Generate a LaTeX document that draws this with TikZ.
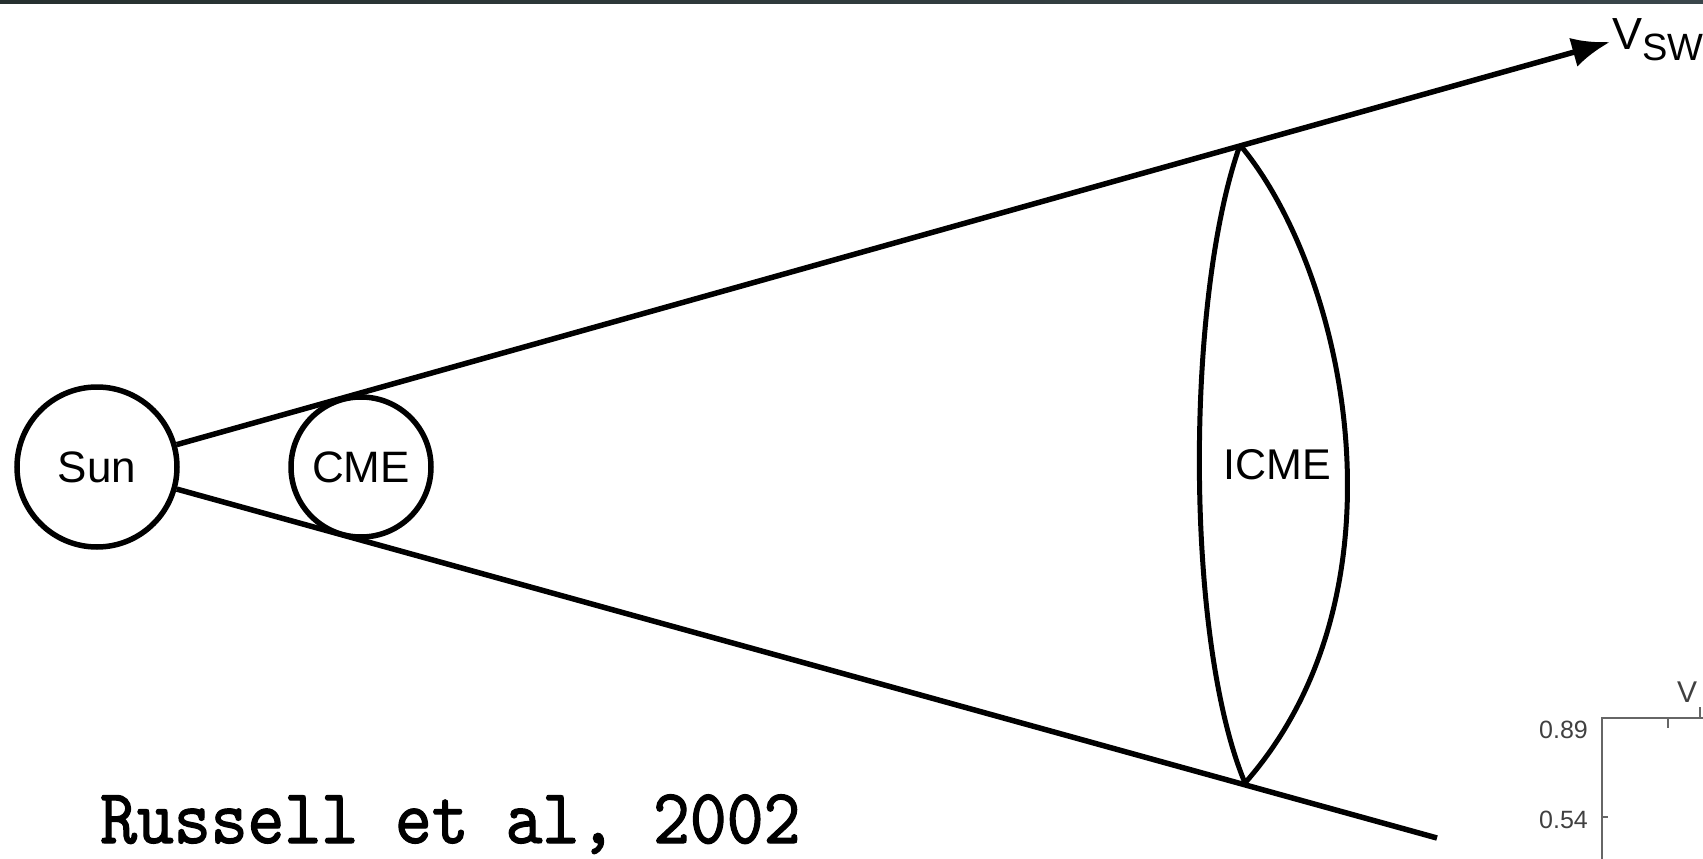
\documentclass[tikz,border=0pt]{standalone}
\usepackage{fontspec}
\setmainfont{Liberation Sans}
\newfontfamily\citefont[FakeStretch=0.9,FakeBold=1.5]{lmmono10-regular.otf}
\usepackage{tikz}
\usetikzlibrary{arrows.meta, positioning}
\definecolor{barleft}{HTML}{26302F}
\definecolor{barright}{HTML}{3A464B}

\begin{document}
\begin{tikzpicture}[x=1pt, y=-1pt]
    % Define styles
    \tikzstyle{body} = [circle, draw=black, line width=5.5pt, inner sep=0pt, font=\fontsize{44}{48}\selectfont]
    \tikzstyle{edge} = [line width=5.5pt, draw=black]
    \tikzstyle{shell} = [line width=5pt, draw=black]
    \tikzstyle{axis} = [line width=2pt, draw=black!60]
    \tikzstyle{ticklabel} = [anchor=base east, inner sep=0pt, text=black!75, font=\fontsize{25}{26}\selectfont]

    \useasboundingbox (0,0) rectangle (1703,859);
    \shade[left color=barleft, right color=barright] (0,0) rectangle (1703,4);

    % Nodes
    \node (sun) [body, minimum size=160pt] at (97,467) {Sun};
    \node (cme) [body, minimum size=140pt] at (361,467) {CME};
    \node (icme) [font=\fontsize{43}{48}\selectfont] at (1277,465) {ICME};
    \coordinate (tip) at (1610,42);
    \coordinate (tail) at (1437,838);
    \coordinate (front) at (1240,145);
    \coordinate (back) at (1245,783);
    \node (vsw) [anchor=base west, inner sep=0pt, font=\fontsize{45}{48}\selectfont] at (1612,50) {V\raisebox{-10pt}{\fontsize{38}{40}\selectfont SW}};
    \node (cite) [anchor=base west, inner sep=0pt] at (100,843) {\citefont\fontsize{78}{84}\selectfont Russell et al, 2002};

    % ICME shell
    \draw [shell] (front) .. controls (1185,300) and (1185,640) .. (back);
    \draw [shell] (front) .. controls (1345,270) and (1415,590) .. (back);

    % Arrows
    \draw [edge, -{Latex[length=38pt,width=30pt]}] (sun) -- (tip);
    \draw [edge] (sun) -- (tail);

    % Corner of the next plot
    \draw [axis] (1602,859) -- (1602,718) -- (1703,718);
    \draw [axis] (1668,718) -- (1668,728);
    \draw [axis] (1700,718) -- (1700,707);
    \draw [axis] (1602,817) -- (1608,817);
    \node (hi) [ticklabel] at (1588,738) {0.89};
    \node (lo) [ticklabel] at (1588,828) {0.54};
    \node (vlab) [anchor=base west, inner sep=0pt, text=black!75, font=\fontsize{30}{32}\selectfont] at (1677,702) {V};
\end{tikzpicture}
\end{document}
